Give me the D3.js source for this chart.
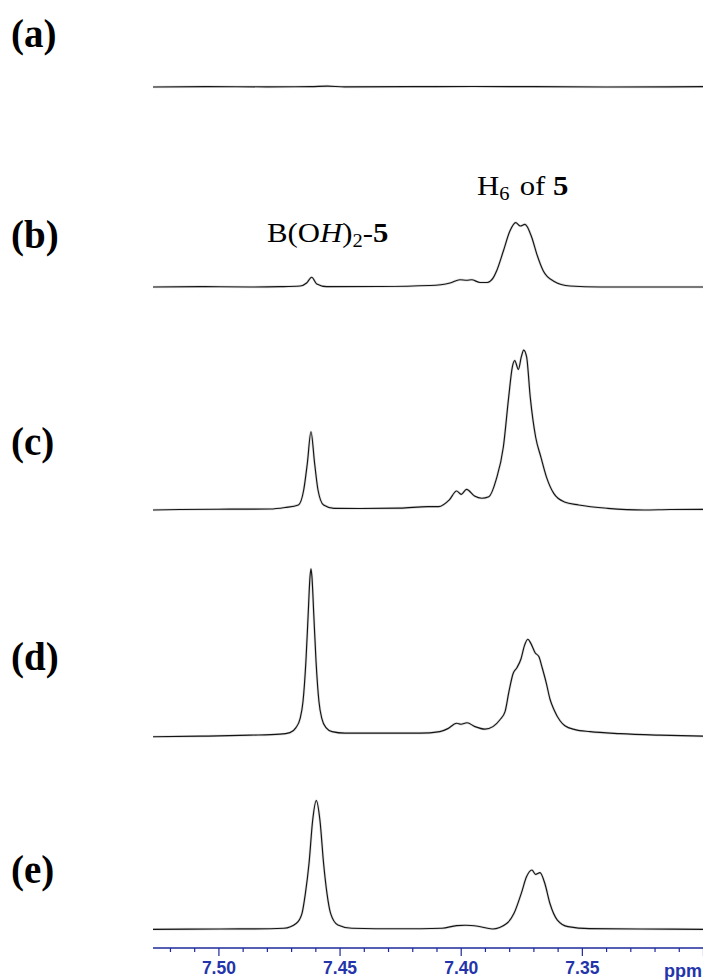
<!DOCTYPE html>
<html>
<head>
<meta charset="utf-8">
<script src="https://cdn.jsdelivr.net/npm/d3@7/dist/d3.min.js"></script>
<style>
  html, body { margin: 0; padding: 0; background: #fff; }
  svg { display: block; }
</style>
</head>
<body>
<svg id="chart" width="703" height="980"></svg>
<script>
// 1H NMR traces, chemical shift (ppm) vs relative intensity (tallest peak = 100)
const panelLabels = ["(a)", "(b)", "(c)", "(d)", "(e)"];

const spectrumA = [
  [7.527, 0], [7.505, 0.2], [7.480, 0.1], [7.462, 0.2], [7.455, 0.5], [7.448, 0.1],
  [7.420, 0.2], [7.395, 0.3], [7.370, 0.2], [7.340, 0.0], [7.300, 0.2]
];

const spectrumB = [
  [7.5270, 0], [7.5076, 0.2], [7.4870, 0], [7.4746, 0.2], [7.4663, 0.6], [7.4636, 2.4],
  [7.4615, 5.8], [7.4594, 1.8], [7.4553, 0.2], [7.4333, 0.3], [7.4127, 0.9], [7.4044, 2.4],
  [7.4003, 4.3], [7.3975, 4.0], [7.3955, 4.3], [7.3920, 2.7], [7.3891, 2.7], [7.3866, 5.4],
  [7.3852, 9.5], [7.3824, 21.4], [7.3797, 33.3], [7.3773, 38.3], [7.3754, 36.3], [7.3735, 37.3],
  [7.3707, 29.6], [7.3686, 19.6], [7.3659, 9.5], [7.3618, 3.6], [7.3549, 0.6], [7.3425, 0],
  [7.3219, 0], [7.3000, 0]
];

const spectrumC = [
  [7.5270, 0], [7.5159, 0.3], [7.4952, 0.5], [7.4787, 0.6], [7.4725, 1.5], [7.4670, 3.0],
  [7.4648, 11.9], [7.4633, 27.8], [7.4618, 46.6], [7.4603, 27.8], [7.4589, 11.9], [7.4566, 3.0],
  [7.4523, 1.0], [7.4416, 0.9], [7.4251, 1.1], [7.4136, 2.0], [7.4091, 2.0], [7.4047, 6.0],
  [7.4017, 11.3], [7.3998, 9.3], [7.3976, 12.3], [7.3943, 8.3], [7.3913, 7.0], [7.3884, 7.9],
  [7.3854, 17.9], [7.3824, 37.5], [7.3802, 67.2], [7.3787, 85.1], [7.3777, 88.9], [7.3762, 83.7],
  [7.3750, 91.1], [7.3740, 95.2], [7.3728, 91.1], [7.3713, 67.2], [7.3691, 43.6], [7.3669, 31.5],
  [7.3646, 19.6], [7.3616, 9.9], [7.3572, 4.8], [7.3513, 3.0], [7.3394, 1.0], [7.3245, 0],
  [7.3136, 0.3], [7.3000, 0.4]
];

const spectrumD = [
  [7.5270, 0], [7.5076, 0.3], [7.4870, 0.9], [7.4746, 1.5], [7.4705, 2.4], [7.4680, 5.4],
  [7.4663, 10.7], [7.4651, 20.8], [7.4639, 44.6], [7.4630, 71.4], [7.4622, 95.2], [7.4618, 100],
  [7.4614, 95.2], [7.4606, 71.4], [7.4597, 44.6], [7.4585, 20.8], [7.4573, 10.7], [7.4556, 5.4],
  [7.4531, 3.0], [7.4478, 2.1], [7.4333, 2.1], [7.4168, 2.1], [7.4086, 3.0], [7.4053, 4.8],
  [7.4017, 8.0], [7.3999, 7.4], [7.3974, 8.3], [7.3941, 6.0], [7.3900, 4.5], [7.3867, 6.0],
  [7.3838, 10.1], [7.3817, 14.9], [7.3801, 26.8], [7.3784, 37.5], [7.3768, 41.1], [7.3751, 46.4],
  [7.3737, 54.2], [7.3723, 58.0], [7.3710, 55.4], [7.3693, 50.0], [7.3677, 47.6], [7.3665, 41.7],
  [7.3646, 31.5], [7.3632, 22.6], [7.3615, 16.1], [7.3590, 9.5], [7.3570, 6.5], [7.3528, 4.2],
  [7.3466, 3.0], [7.3343, 1.8], [7.3178, 0.9], [7.3000, 0.3]
];

const spectrumE = [
  [7.5270, 0], [7.4993, 0.2], [7.4787, 0.3], [7.4730, 0.6], [7.4678, 3.6], [7.4655, 9.5],
  [7.4641, 21.4], [7.4626, 39.3], [7.4611, 64.9], [7.4596, 76.6], [7.4581, 64.9], [7.4566, 39.3],
  [7.4552, 21.4], [7.4537, 9.5], [7.4507, 2.6], [7.4449, 0.6], [7.4251, 0.3], [7.4077, 0.6],
  [7.4017, 2.2], [7.3980, 2.4], [7.3929, 1.8], [7.3869, 0.2], [7.3809, 3.6], [7.3780, 9.5],
  [7.3750, 21.4], [7.3728, 31.4], [7.3706, 35.3], [7.3691, 32.7], [7.3673, 33.7], [7.3653, 27.4],
  [7.3632, 15.5], [7.3601, 5.5], [7.3557, 1.6], [7.3468, 0.4], [7.3260, 0.2], [7.3000, 0]
];

const majorTicks = [7.50, 7.45, 7.40, 7.35, 7.30];
const majorTickLabels = ["7.50", "7.45", "7.40", "7.35", ""];
const minorTicks = [7.52, 7.51, 7.49, 7.48, 7.47, 7.46, 7.44, 7.43, 7.42, 7.41,
                    7.39, 7.38, 7.37, 7.36, 7.34, 7.33, 7.32, 7.31];
const unitLabel = "ppm";

// ---- layout ----
const W = 703, H = 980;
const plotLeft = 153, plotRight = 703;
const axisY = 948;
const traceBaselines = [87, 287, 510, 736.7, 929.3];
const labelBaselines = [47, 248, 455, 670, 883];

const svg = d3.select("#chart");

// NMR convention: shift decreases to the right
const x = d3.scaleLinear().domain([7.527, 7.300]).range([plotLeft, plotRight]);
const yHeight = d3.scaleLinear().domain([0, 100]).range([0, 168]);

const spectra = [spectrumA, spectrumB, spectrumC, spectrumD, spectrumE];

svg.append("defs").append("clipPath").attr("id", "plot-clip")
  .append("rect").attr("x", plotLeft).attr("y", 0)
  .attr("width", plotRight - plotLeft).attr("height", H);

const traces = svg.append("g").attr("clip-path", "url(#plot-clip)");

spectra.forEach((spec, i) => {
  const base = traceBaselines[i];
  const line = d3.line()
    .x(d => x(d[0]))
    .y(d => base - yHeight(d[1]))
    .curve(d3.curveMonotoneX);
  // soft grey halo under the trace
  traces.append("path")
    .datum(spec)
    .attr("d", line)
    .attr("fill", "none")
    .attr("stroke", "#9a9a9a")
    .attr("stroke-opacity", 0.35)
    .attr("stroke-width", 2.6)
    .attr("stroke-linejoin", "round");
  traces.append("path")
    .datum(spec)
    .attr("d", line)
    .attr("fill", "none")
    .attr("stroke", "#141414")
    .attr("stroke-width", 1.15)
    .attr("stroke-linejoin", "round");
});

// panel labels
svg.append("g").selectAll("text")
  .data(panelLabels)
  .join("text")
  .attr("x", 11)
  .attr("y", (d, i) => labelBaselines[i])
  .attr("font-family", "'Liberation Serif', 'Times New Roman', serif")
  .attr("font-weight", "bold")
  .attr("font-size", 39)
  .attr("fill", "#000")
  .text(d => d);

// peak annotations
const serif = "'Liberation Serif', 'Times New Roman', serif";
const annB = svg.append("text")
  .attr("transform", "translate(267,242) scale(1.14,1)")
  .attr("font-family", serif).attr("font-size", 27).attr("fill", "#000");
annB.append("tspan").text("B(O");
annB.append("tspan").attr("font-style", "italic").text("H");
annB.append("tspan").text(")");
annB.append("tspan").attr("font-size", 18).attr("dy", 5).text("2");
annB.append("tspan").attr("dy", -5).text("-");
annB.append("tspan").attr("font-weight", "bold").text("5");

const annH = svg.append("text")
  .attr("transform", "translate(477,195) scale(1.14,1)")
  .attr("font-family", serif).attr("font-size", 27).attr("fill", "#000");
annH.append("tspan").text("H");
annH.append("tspan").attr("font-size", 18).attr("dy", 5).text("6");
annH.append("tspan").attr("dy", -5).attr("dx", 9).text("of ");
annH.append("tspan").attr("font-weight", "bold").text("5");

// ppm axis
const axisColor = "#1c2a9e";
const labelColor = "#2434aa";
const axisG = svg.append("g").attr("transform", `translate(0,${axisY})`);

axisG.append("line")
  .attr("x1", plotLeft).attr("x2", plotRight)
  .attr("y1", 0).attr("y2", 0)
  .attr("stroke", axisColor).attr("stroke-width", 1.3);

const minorAxis = d3.axisBottom(x).tickValues(minorTicks).tickSize(4).tickFormat("");
const majorAxis = d3.axisBottom(x).tickValues(majorTicks).tickSize(8).tickPadding(6)
  .tickFormat((d, i) => majorTickLabels[i]);

const gMinor = axisG.append("g").call(minorAxis);
const gMajor = axisG.append("g").call(majorAxis);
[gMinor, gMajor].forEach(g => {
  g.select(".domain").remove();
  g.selectAll(".tick line").attr("stroke", axisColor).attr("stroke-width", 1.2);
});
gMajor.selectAll(".tick text")
  .attr("fill", labelColor)
  .attr("font-family", "'Liberation Sans', Arial, sans-serif")
  .attr("font-weight", "bold")
  .attr("font-size", 17.5);

axisG.append("text")
  .attr("x", 702).attr("y", 29)
  .attr("text-anchor", "end")
  .attr("fill", labelColor)
  .attr("font-family", "'Liberation Sans', Arial, sans-serif")
  .attr("font-weight", "bold")
  .attr("font-size", 18)
  .text(unitLabel);
</script>
</body>
</html>
